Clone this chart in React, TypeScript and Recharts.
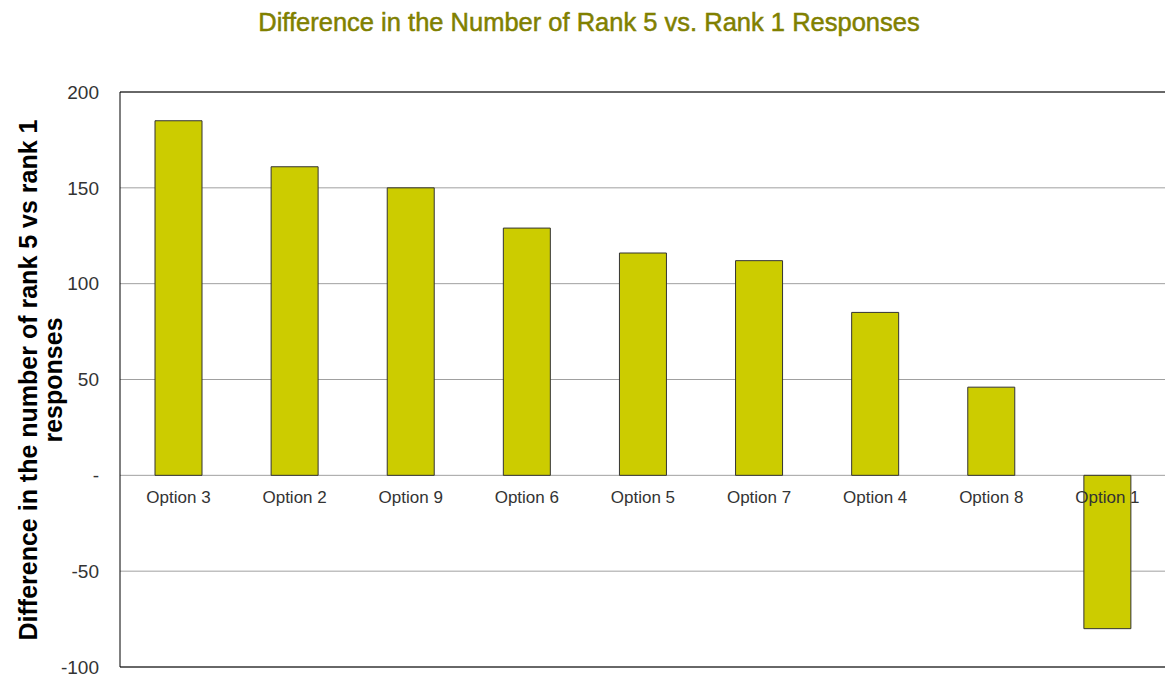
import React from "react";
import {
  BarChart,
  Bar,
  XAxis,
  YAxis,
  CartesianGrid,
  ReferenceLine,
  LabelList,
} from "recharts";

const CATEGORIES = [
  "Option 3",
  "Option 2",
  "Option 9",
  "Option 6",
  "Option 5",
  "Option 7",
  "Option 4",
  "Option 8",
  "Option 1",
];
const DIFFERENCES = [185, 161, 150, 129, 116, 112, 85, 46, -80];
const Y_TICKS = [-100, -50, 0, 50, 100, 150, 200];

const data = CATEGORIES.map((name, i) => ({ name, value: DIFFERENCES[i] }));

// category names sit just under the zero line, not at the bottom of the plot
const ZeroLineLabel = (props: any) => {
  const { x, y, width, height, index } = props;
  const base = Number(y) + Number(height);
  return (
    <text
      x={Number(x) + Number(width) / 2}
      y={base + 28}
      textAnchor="middle"
      fontSize={17}
      fill="#333"
      fontFamily="'Liberation Sans', Arial, sans-serif"
    >
      {CATEGORIES[index]}
    </text>
  );
};

const AxisTitle = () => (
  <g
    fontFamily="'Liberation Sans', Arial, sans-serif"
    fontWeight="bold"
    fontSize={25}
    fill="#000"
  >
    <text transform="translate(37, 380) rotate(-90)" textAnchor="middle">
      Difference in the number of rank 5 vs rank 1
    </text>
    <text transform="translate(62, 380) rotate(-90)" textAnchor="middle">
      responses
    </text>
  </g>
);

export default function App() {
  return (
    <div style={{ position: "absolute", left: 0, top: 0, width: 1165, height: 677, background: "#fff" }}>
      <svg width={1165} height={677} style={{ position: "absolute", left: 0, top: 0 }}>
        <text
          x={589}
          y={31}
          textAnchor="middle"
          fontSize={25.5}
          fill="#808000"
          stroke="#808000"
          strokeWidth={0.5}
          fontFamily="'Liberation Sans', Arial, sans-serif"
        >
          Difference in the Number of Rank 5 vs. Rank 1 Responses
        </text>
        <AxisTitle />
      </svg>
      <div style={{ position: "absolute", left: 0, top: 0 }}>
        <BarChart
          width={1165}
          height={677}
          data={data}
          margin={{ top: 92, right: 0, left: 0, bottom: 10 }}
          barSize={47}
        >
          <CartesianGrid vertical={false} stroke="#a0a0a0" strokeWidth={1} />
          <XAxis dataKey="name" hide />
          <YAxis
            width={120}
            domain={[-100, 200]}
            ticks={Y_TICKS}
            interval={0}
            tickLine={false}
            tickSize={0}
            tickMargin={21}
            axisLine={{ stroke: "#000", strokeWidth: 1 }}
            tick={{ fontSize: 19, fill: "#333", fontFamily: "'Liberation Sans', Arial, sans-serif" }}
            tickFormatter={(v: number) => (v === 0 ? "-" : String(v))}
          />
          <ReferenceLine y={200} stroke="#000" strokeWidth={1} />
          <ReferenceLine y={-100} stroke="#000" strokeWidth={1} />
          <Bar dataKey="value" fill="#cccc00" stroke="#333" strokeWidth={1} isAnimationActive={false}>
            <LabelList dataKey="value" content={<ZeroLineLabel />} />
          </Bar>
        </BarChart>
      </div>
    </div>
  );
}
